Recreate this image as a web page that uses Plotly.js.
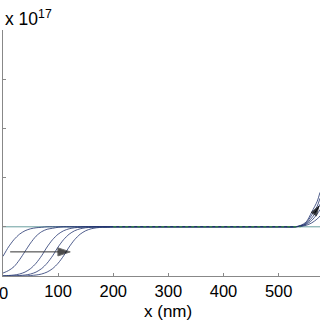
<!DOCTYPE html>
<html>
<head>
<meta charset="utf-8">
<script src="https://cdn.plot.ly/plotly-3.0.1.min.js"></script>
<style>html,body{margin:0;padding:0;background:#fff;}#chart{width:320px;height:320px;}</style>
</head>
<body>
<div id="chart"></div>
<script>
// x positions in nm
const xNm = [0,10,20,30,40,50,60,70,80,90,100,110,120,130,140,150,160,170,180,190,200,210,220,300,400,500,530,540,550,560,570,575];
// concentration (x 10^17) for each profile
const profileA = [0.40,0.59,0.74,0.85,0.92,0.96,0.98,0.99,1,1,1,1,1,1,1,1,1,1,1,1,1,1,1,1,1,1,1.00,1.03,1.10,1.30,1.52,1.70];
const profileB = [0.06,0.11,0.19,0.33,0.50,0.67,0.81,0.90,0.95,0.97,0.99,1,1,1,1,1,1,1,1,1,1,1,1,1,1,1,1.00,1.02,1.08,1.24,1.42,1.58];
const profileC = [0.00,0.01,0.02,0.04,0.08,0.15,0.26,0.41,0.59,0.74,0.85,0.92,0.96,0.98,0.99,1,1,1,1,1,1,1,1,1,1,1,1.00,1.02,1.06,1.18,1.34,1.46];
const profileD = [0,0,0,0.01,0.02,0.04,0.08,0.15,0.26,0.41,0.59,0.74,0.85,0.92,0.96,0.98,0.99,1,1,1,1,1,1,1,1,1,1.00,1.01,1.05,1.13,1.26,1.35];
const profileE = [0,0,0,0,0,0.01,0.02,0.04,0.08,0.15,0.26,0.41,0.59,0.74,0.85,0.92,0.96,0.98,0.99,0.99,1,1,1,1,1,1,1.00,1.01,1.03,1.08,1.16,1.22];
const levelX = [0,575];
const levelY = [1,1];
const greenX = [200,540];
const greenY = [1,1];
// direction arrows (tail, head)
const arrowLeftX = [13,122];
const arrowLeftY = [0.49,0.49];
const arrowRightX = [565,573];
const arrowRightY = [1.28,1.42];
const xTicks = [0,100,200,300,400,500];
const xTickText = ['0','100','200','300','400','500'];
const yTicks = [0,1,2,3,4,5];

const profiles = [profileA, profileB, profileC, profileD, profileE];
const traces = [{x: levelX, y: levelY, mode: 'lines', line: {color: '#6a9e9e', width: 1}, hoverinfo: 'skip'}];
profiles.forEach(p => traces.push({x: xNm, y: p, mode: 'lines', line: {color: '#22346f', width: 0.8, shape: 'spline', smoothing: 0.8}, hoverinfo: 'skip'}));
traces.push({x: greenX, y: greenY, mode: 'lines', line: {color: '#3a9a3a', width: 1, dash: 'dot'}, hoverinfo: 'skip'});
traces.push({x: arrowLeftX, y: arrowLeftY, mode: 'lines+markers', line: {color: '#333', width: 1},
             marker: {symbol: 'arrow', angleref: 'previous', size: [0, 13], color: '#000'}, hoverinfo: 'skip', cliponaxis: false});
traces.push({x: arrowRightX, y: arrowRightY, mode: 'lines+markers', line: {color: '#111', width: 1},
             marker: {symbol: 'arrow', angleref: 'previous', size: [0, 10], color: '#000'}, hoverinfo: 'skip'});

const font = {family: 'Liberation Sans, Arial, sans-serif', color: '#000'};
const layout = {
  width: 320, height: 320,
  margin: {l: 3, r: 0, t: 30, b: 44},
  showlegend: false,
  paper_bgcolor: '#fff', plot_bgcolor: '#fff',
  xaxis: {range: [0, 575], tickvals: xTicks, ticktext: xTickText, ticks: 'inside', ticklen: 3, tickcolor: '#888',
          showline: true, linecolor: '#888', linewidth: 1, showgrid: false, zeroline: false,
          tickfont: Object.assign({size: 16.5}, font)},
  yaxis: {range: [0, 5], tickvals: yTicks, ticks: 'inside', ticklen: 3, tickcolor: '#888', showticklabels: false,
          showline: true, linecolor: '#888', linewidth: 1, showgrid: false, zeroline: false},
  annotations: [
    {x: 0, y: 0, xref: 'x', yref: 'paper', xanchor: 'center', yanchor: 'top', yshift: -6, showarrow: false,
     text: xTickText[0], font: Object.assign({size: 16.5}, font)},
    {x: 0, y: 1, xref: 'paper', yref: 'paper', xanchor: 'left', yanchor: 'bottom', yshift: -1, showarrow: false,
     text: 'x 10<sup>17</sup>', font: Object.assign({size: 17.5}, font)},
    {x: 300, y: 0, xref: 'x', yref: 'paper', xanchor: 'center', yanchor: 'top', yshift: -24, showarrow: false,
     text: 'x (nm)', font: Object.assign({size: 17}, font)}
  ]
};
Plotly.newPlot('chart', traces, layout, {staticPlot: true, displayModeBar: false});
</script>
</body>
</html>
